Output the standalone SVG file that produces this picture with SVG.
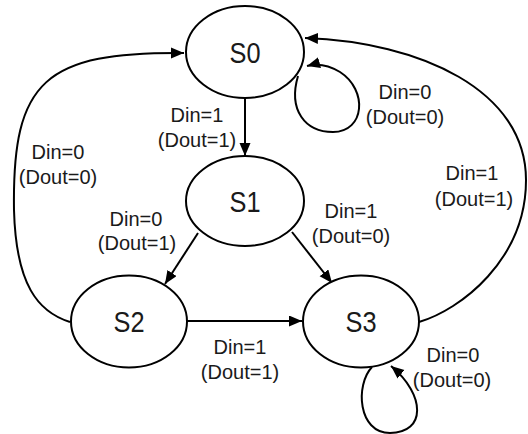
<svg xmlns="http://www.w3.org/2000/svg" width="528" height="434" viewBox="0 0 528 434">
<style>
.node ellipse{fill:#fff;stroke:#000;stroke-width:2}
.st{font-family:"Liberation Sans",Arial,sans-serif;font-size:29px;fill:#1a1a1a;text-anchor:middle}
.lb{font-family:"Liberation Sans",Arial,sans-serif;font-size:20px;fill:#1a1a1a;text-anchor:middle}
.edge{fill:none;stroke:#000;stroke-width:2;marker-end:url(#ah)}
</style>
<defs>
<marker id="ah" markerUnits="userSpaceOnUse" markerWidth="14" markerHeight="12" refX="13" refY="5.5" orient="auto">
<path d="M0,0 L13,5.5 L0,11 z" fill="#000"/>
</marker>
</defs>
<rect width="528" height="434" fill="#fff"/>
<g id="connectors">
<path class="edge" d="M245,98 L245,156"/>
<path class="edge" d="M198,233 L165,284"/>
<path class="edge" d="M292,232 L332,283"/>
<path class="edge" d="M187,321 L302,321"/>
<path class="edge" d="M70,322 C38,312 16,285 14,210 C12,80 45,52 184,53"/>
<path class="edge" d="M419,322 C460,310 526,260 526,180 C526,90 420,42 305,38"/>
<path class="edge" d="M298,76 C288,110 305,132 333,132 C365,132 368,90 340,72 C330,66 318,63 307,66"/>
<path class="edge" d="M372,367 C355,385 358,433 390,433 C426,433 426,395 391,366"/>
</g>
<g id="S0" class="node"><ellipse cx="245" cy="52" rx="59" ry="46"/><text class="st" x="245" y="63" textLength="31" lengthAdjust="spacingAndGlyphs">S0</text></g>
<g id="S1" class="node"><ellipse cx="245" cy="201" rx="59" ry="45"/><text class="st" x="245" y="212" textLength="31" lengthAdjust="spacingAndGlyphs">S1</text></g>
<g id="S2" class="node"><ellipse cx="129" cy="321.5" rx="58" ry="46"/><text class="st" x="129" y="332" textLength="31" lengthAdjust="spacingAndGlyphs">S2</text></g>
<g id="S3" class="node"><ellipse cx="361" cy="321.5" rx="58" ry="46"/><text class="st" x="361" y="332" textLength="31" lengthAdjust="spacingAndGlyphs">S3</text></g>
<g id="labels">
<text class="lb" x="197" y="122">Din=1</text><text class="lb" x="197" y="147">(Dout=1)</text>
<text class="lb" x="58" y="159">Din=0</text><text class="lb" x="58" y="184">(Dout=0)</text>
<text class="lb" x="136" y="226">Din=0</text><text class="lb" x="137" y="250">(Dout=1)</text>
<text class="lb" x="351" y="218">Din=1</text><text class="lb" x="351" y="243">(Dout=0)</text>
<text class="lb" x="405" y="99">Din=0</text><text class="lb" x="405" y="124">(Dout=0)</text>
<text class="lb" x="472" y="180">Din=1</text><text class="lb" x="474" y="206">(Dout=1)</text>
<text class="lb" x="240" y="354">Din=1</text><text class="lb" x="240" y="379">(Dout=1)</text>
<text class="lb" x="453" y="362">Din=0</text><text class="lb" x="452" y="387">(Dout=0)</text>
</g>
</svg>
